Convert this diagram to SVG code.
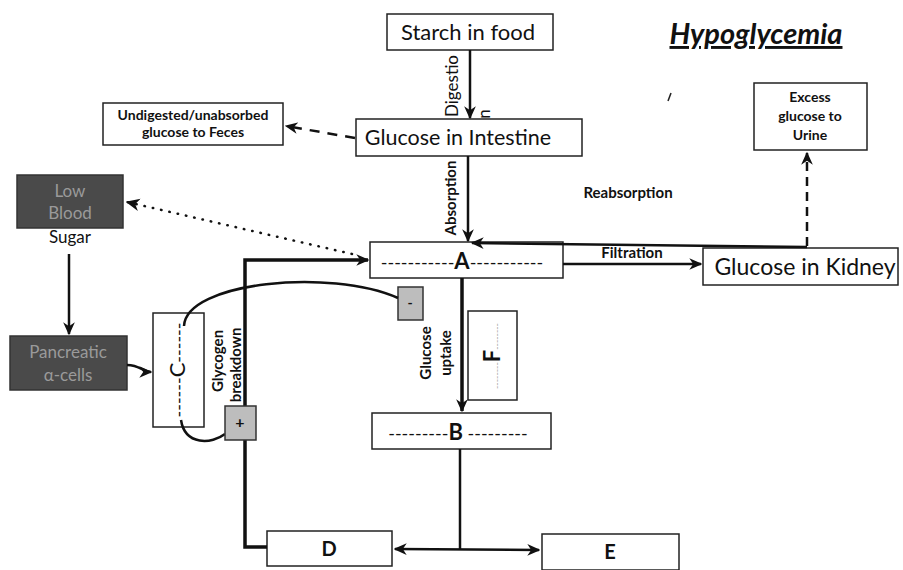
<svg xmlns="http://www.w3.org/2000/svg" width="903" height="570" viewBox="0 0 903 570">
<defs>
<marker id="ah" viewBox="0 0 10 10" refX="9" refY="5" markerWidth="13" markerHeight="13" orient="auto-start-reverse" markerUnits="userSpaceOnUse">
<path d="M0,0.5 L10,5 L0,9.5 L3,5 z" fill="#111"/>
</marker>
<marker id="ahs" viewBox="0 0 10 10" refX="9" refY="5" markerWidth="14" markerHeight="14" orient="auto-start-reverse" markerUnits="userSpaceOnUse">
<path d="M0,0.5 L10,5 L0,9.5 L3,5 z" fill="#111"/>
</marker>
</defs>
<style>
.box{fill:#fff;stroke:#222;stroke-width:1.5}
.dark{fill:#4a4a4a;stroke:#333;stroke-width:1.5}
.sign{fill:#bdbdbd;stroke:#333;stroke-width:1.5}
.t{font-family:Lato,"Open Sans",sans-serif;fill:#111}
.sm{font-size:14px;font-weight:bold}
.lbl{font-size:15px;font-weight:bold}
.gt{fill:#9a9a9a;font-size:17px}
.c{stroke:#111;fill:none;stroke-width:2.5}
.thick{stroke-width:3.5}
</style>
<rect width="903" height="570" fill="#fff"/>

<g id="title">
<text class="t" x="756" y="44" text-anchor="middle" font-size="29" font-weight="bold" font-style="italic" text-decoration="underline">Hypoglycemia</text>
<path d="M671,93 L668,101" stroke="#222" stroke-width="1.5"/>
</g>

<g id="starch">
<rect class="box" x="387" y="14" width="166" height="36"/>
<text class="t" x="468" y="40" text-anchor="middle" font-size="22">Starch in food</text>
</g>
<g id="digestion-label">
<text class="t" transform="translate(458,86) rotate(-90)" text-anchor="middle" font-size="17">Digestio</text>
<text class="t" transform="translate(490,114) rotate(-90)" text-anchor="middle" font-size="17">n</text>
</g>

<g id="intestine">
<rect class="box" x="356" y="119" width="226" height="37"/>
<text class="t" x="458" y="145" text-anchor="middle" font-size="21.5">Glucose in Intestine</text>
</g>

<g id="feces">
<rect class="box" x="103" y="103" width="180" height="42"/>
<text class="t sm" x="193" y="120" text-anchor="middle">Undigested/unabsorbed</text>
<text class="t sm" x="193" y="137" text-anchor="middle">glucose to Feces</text>
</g>

<g id="absorption-label">
<text class="t lbl" transform="translate(456,198) rotate(-90)" text-anchor="middle" font-size="16">Absorption</text>
</g>

<g id="reabsorption-label">
<text class="t lbl" x="628" y="198" text-anchor="middle" font-size="16">Reabsorption</text>
</g>
<g id="filtration-label">
<text class="t lbl" x="632" y="258" text-anchor="middle" font-size="16">Filtration</text>
</g>

<g id="urine">
<rect class="box" x="754" y="83" width="113" height="67"/>
<text class="t sm" x="810" y="102" text-anchor="middle" font-size="15">Excess</text>
<text class="t sm" x="810" y="121" text-anchor="middle" font-size="15">glucose to</text>
<text class="t sm" x="810" y="140" text-anchor="middle" font-size="15">Urine</text>
</g>

<g id="kidney">
<rect class="box" x="703" y="248" width="195" height="37"/>
<text class="t" x="805" y="275" text-anchor="middle" font-size="23">Glucose in Kidney</text>
</g>

<g id="low-blood-sugar">
<rect class="dark" x="17" y="175" width="106" height="53"/>
<text class="t gt" x="70" y="197" text-anchor="middle">Low</text>
<text class="t gt" x="70" y="219" text-anchor="middle">Blood</text>
<text class="t" x="70" y="243" text-anchor="middle" font-size="17">Sugar</text>
</g>

<g id="A">
<rect class="box" x="370" y="242" width="193" height="36"/>
<text class="t" x="462" y="269" text-anchor="middle" font-size="18">-----------<tspan font-weight="bold" font-size="22">A</tspan>-----------</text>
</g>

<g id="pancreatic">
<rect class="dark" x="10" y="336" width="117" height="54"/>
<text class="t gt" x="68" y="358" text-anchor="middle" font-size="18">Pancreatic</text>
<text class="t gt" x="68" y="381" text-anchor="middle" font-size="18">α-cells</text>
</g>

<g id="C">
<rect class="box" x="153" y="313" width="51" height="114"/>
<text class="t" transform="translate(185,370) rotate(-90)" text-anchor="middle" font-size="18">------<tspan font-size="22">C</tspan>------</text>
</g>

<g id="glycogen-label">
<text class="t lbl" transform="translate(223,361) rotate(-90)" text-anchor="middle">Glycogen</text>
<text class="t lbl" transform="translate(241,365) rotate(-90)" text-anchor="middle">breakdown</text>
</g>

<g id="minus">
<rect class="sign" x="398" y="287" width="25" height="33"/>
<text class="t" x="410" y="308" text-anchor="middle" font-size="14" font-weight="bold">-</text>
</g>

<g id="glucose-uptake-label">
<text class="t lbl" transform="translate(431,353) rotate(-90)" text-anchor="middle">Glucose</text>
<text class="t lbl" transform="translate(451,353) rotate(-90)" text-anchor="middle">uptake</text>
</g>

<g id="F">
<rect class="box" x="468" y="311" width="49" height="89"/>
<text class="t" transform="translate(500,356) rotate(-90)" text-anchor="middle" font-size="14" fill="#aaa"><tspan fill="#aaa" font-size="9">--------</tspan><tspan font-size="22" font-weight="bold" fill="#111">F</tspan><tspan fill="#aaa" font-size="9">--------</tspan></text>
</g>

<g id="B">
<rect class="box" x="372" y="413" width="179" height="36"/>
<text class="t" x="458" y="440" text-anchor="middle" font-size="18">---------<tspan font-weight="bold" font-size="22">B</tspan> ---------</text>
</g>

<g id="D">
<rect class="box" x="267" y="531" width="125" height="35"/>
<text class="t" x="329" y="556" text-anchor="middle" font-size="20" font-weight="bold">D</text>
</g>

<g id="E">
<rect class="box" x="542" y="534" width="137" height="36"/>
<text class="t" x="610" y="559" text-anchor="middle" font-size="20" font-weight="bold">E</text>
</g>

<g id="connectors">
<line class="c" x1="470" y1="50" x2="470" y2="118" marker-end="url(#ah)"/>
<line class="c" x1="468" y1="156" x2="468" y2="241" marker-end="url(#ah)"/>
<line class="c" x1="807" y1="247" x2="472" y2="243" marker-end="url(#ah)"/>
<line class="c" x1="807" y1="246" x2="807" y2="153" stroke-width="3" stroke-dasharray="9 6" marker-end="url(#ah)"/>
<line class="c" x1="563" y1="264" x2="701" y2="264" marker-end="url(#ah)"/>
<line class="c" x1="355" y1="138" x2="286" y2="126" stroke-dasharray="10 8" marker-end="url(#ah)"/>
<line class="c" x1="352" y1="254" x2="127" y2="202" stroke-width="3" stroke-dasharray="0.5 8" stroke-linecap="round" marker-end="url(#ahs)"/>
<line class="c" x1="69" y1="254" x2="69" y2="334" marker-end="url(#ah)"/>
<path class="c" d="M127,365 C140,365 143,372 151,372" marker-end="url(#ah)"/>
<path class="c thick" d="M267,547 L245,547 L245,260 L368,260" marker-end="url(#ah)"/>
<path class="c" d="M184,326 C186,282 330,268 398,298"/>
<path class="c" d="M181,420 C185,446 212,444 225,434"/>
<line class="c thick" x1="462" y1="278" x2="462" y2="411" marker-end="url(#ah)"/>
<line class="c" x1="460" y1="449" x2="460" y2="549"/>
<line class="c" x1="395" y1="549" x2="539" y2="550" marker-start="url(#ah)" marker-end="url(#ah)"/>
</g>

<g id="plus">
<rect class="sign" x="225" y="406" width="31" height="34"/>
<text class="t" x="240" y="428" text-anchor="middle" font-size="16" font-weight="bold">+</text>
</g>
</svg>
